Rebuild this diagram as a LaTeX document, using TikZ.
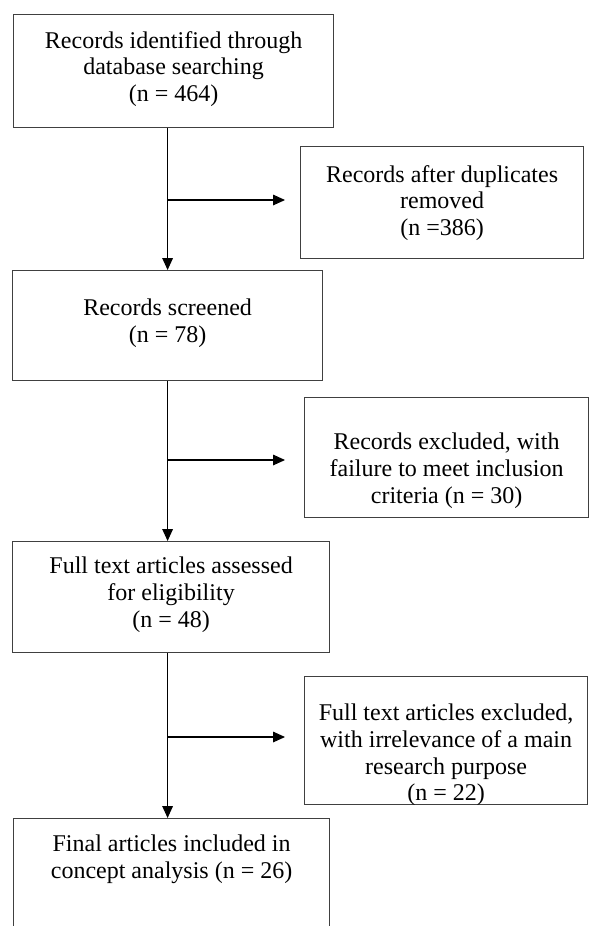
\documentclass[tikz,border=0pt]{standalone}
\usepackage{fontspec}
\setmainfont{Liberation Serif}
\usetikzlibrary{positioning,arrows.meta}
\begin{document}
\begin{tikzpicture}[x=0.75pt,y=-0.75pt,
    box/.style={draw=black!75, line width=0.9pt, anchor=north west, inner sep=0pt},
    txt/.style={align=center, inner sep=0pt, font=\fontsize{18pt}{20pt}\selectfont},
    arr/.style={-{Triangle[length=9pt,width=8pt]}, line width=0.8pt}]
      \useasboundingbox (0,0) rectangle (590,926);
      \clip (0,0) rectangle (590,926);
      % left column
      \node[box, minimum width=240pt, minimum height=84.75pt] (b1) at (13,14) {};
      \node[box, minimum width=232.5pt, minimum height=82.5pt] (b3) at (12,270) {};
      \node[box, minimum width=237.75pt, minimum height=83.25pt] (b5) at (12,541) {};
      \node[box, minimum width=237pt, minimum height=100pt] (b7) at (13,818) {};
      % right column
      \node[box, minimum width=212.25pt, minimum height=84pt] (b2) at (300,146) {};
      \node[box, minimum width=213pt, minimum height=90pt] (b4) at (304,397) {};
      \node[box, minimum width=212.25pt, minimum height=96pt] (b6) at (304,676) {};
      % texts
      \node[txt, below=12.75pt of b1.north] (t1) {Records identified through\\ database searching\\ (n = 464)};
      \node[txt, below=14.25pt of b2.north] (t2) {Records after duplicates\\ removed\\ (n =386)};
      \node[txt, below=21.75pt of b3.north] (t3) {Records screened\\ (n = 78)};
      \node[txt, below=27pt of b4.north] (t4) {Records excluded, with\\ failure to meet inclusion\\ criteria (n = 30)};
      \node[txt, below=12pt of b5.north] (t5) {Full text articles assessed\\ for eligibility\\ (n = 48)};
      \node[txt, below=21pt of b6.north] (t6) {Full text articles excluded,\\ with irrelevance of a main\\ research purpose\\ (n = 22)};
      \node[txt, below=12.75pt of b7.north] (t7) {Final articles included in\\ concept analysis (n = 26)};
      % main flow
      \draw[arr] (b1.south -| b3.center) to (b3.north);
      \draw[arr] (b3.south) to (b5.north -| b3.center);
      \draw[arr] (b5.south -| b3.center) to (b7.north -| b3.center);
      % side branches
      \coordinate (j1) at (167,200); \coordinate (j2) at (167,460); \coordinate (j3) at (167,737);
      \draw[arr, shorten >=11.25pt] (j1) to (j1 -| b2.west);
      \draw[arr, shorten >=14.25pt] (j2) to (j2 -| b4.west);
      \draw[arr, shorten >=14.25pt] (j3) to (j3 -| b6.west);
    \end{tikzpicture}
\end{document}
